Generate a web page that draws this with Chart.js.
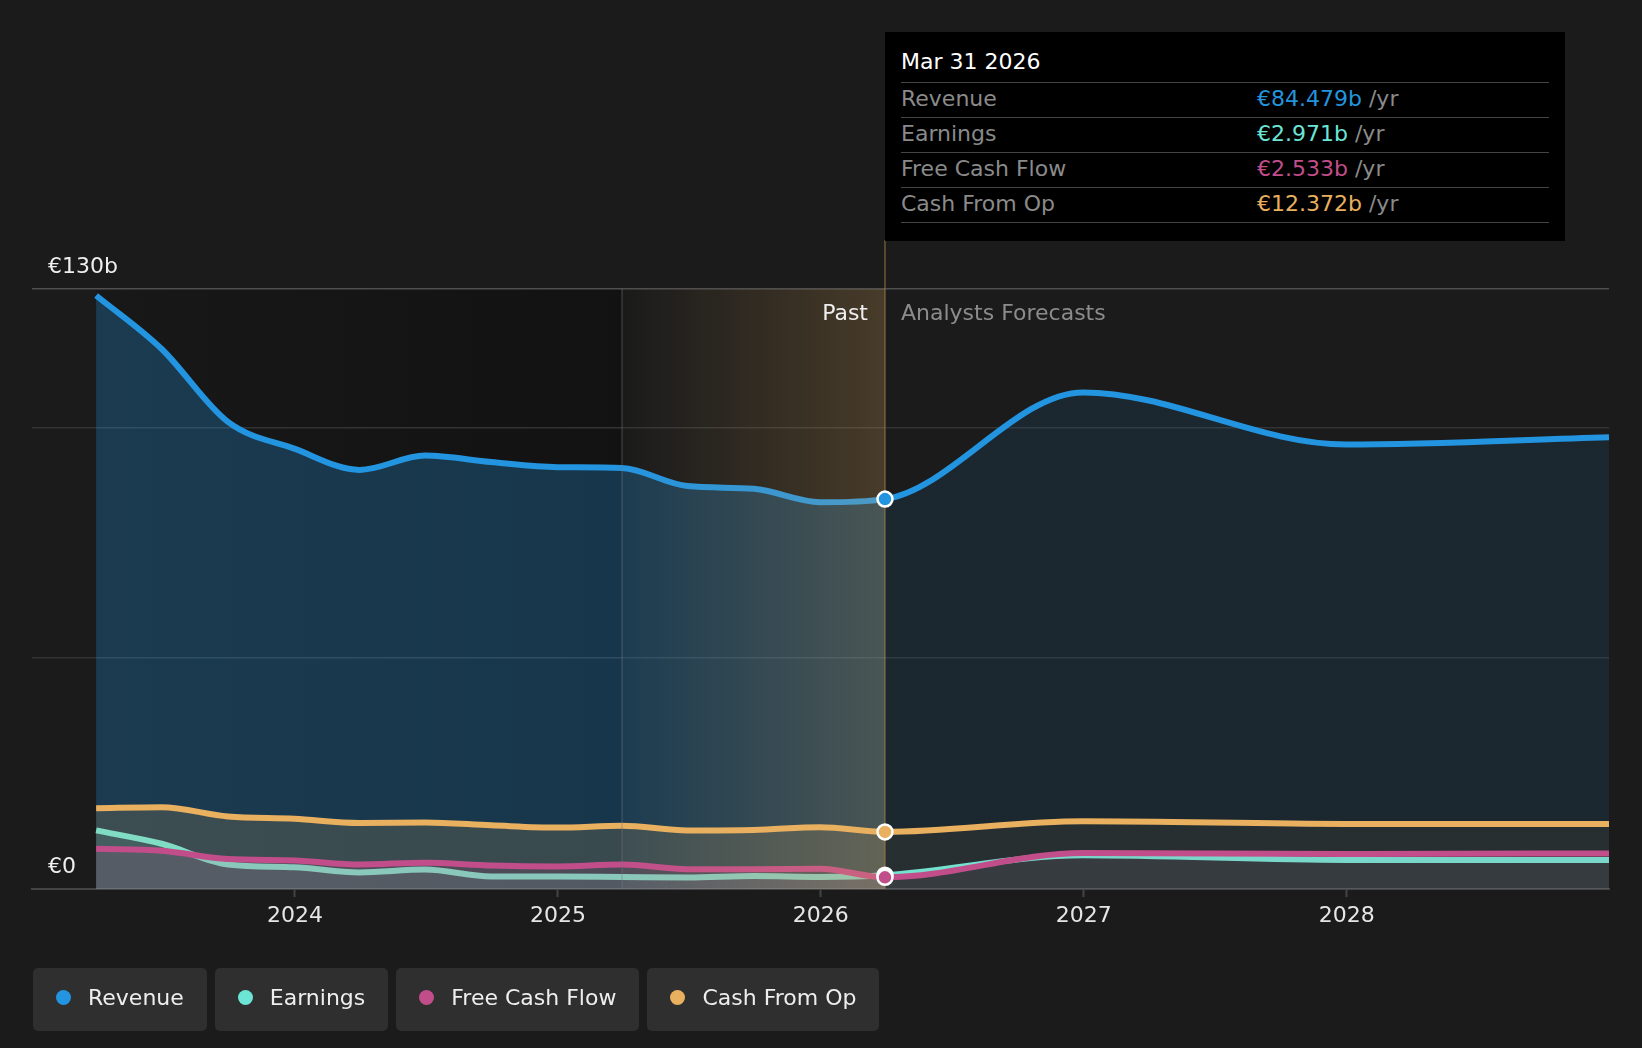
<!DOCTYPE html>
<html>
<head>
<meta charset="utf-8">
<script src="https://cdn.jsdelivr.net/npm/chart.js@4"></script>
<style>
  html, body { margin: 0; padding: 0; background: #1b1b1b; overflow: hidden; }
  body { width: 1642px; height: 1048px; position: relative; font-family: 'DejaVu Sans', sans-serif; }
  #chart { position: absolute; left: 0; top: 0; }
  .tip { position: absolute; left: 885px; top: 32px; width: 648px; padding: 0 16px 18px 16px; background: #000; font-size: 22px; }
  .tip .title { color: #fff; padding-top: 17px; line-height: 26px; padding-bottom: 7px; border-bottom: 1.5px solid #444; }
  .tip .row { display: flex; height: 34px; line-height: 32px; border-bottom: 1.5px solid #444; color: #8a8a8a; }
  .tip .row .lab { width: 356px; }
  .legend { position: absolute; top: 968px; left: 33px; display: flex; gap: 8px; }
  .legend .item { height: 63px; box-sizing: border-box; padding: 0 23px 4px 23px; background: #2f2f2f; border-radius: 5px; display: flex; align-items: center; color: #eee; font-size: 22px; }
  .legend .dot { width: 15px; height: 15px; border-radius: 50%; margin-right: 17px; }
</style>
</head>
<body>
<canvas id="chart" width="1642" height="1048"></canvas>
<div class="tip" id="tip"></div>
<div class="legend" id="legend"></div>
<script>
// ---------------- data ----------------
const dates = ['2023-03-31', '2023-06-30', '2023-09-30', '2023-12-31', '2024-03-31', '2024-06-30', '2024-09-30',
    '2024-12-31', '2025-03-31', '2025-06-30', '2025-09-30', '2025-12-31', '2026-03-31',
    '2026-12-31', '2027-12-31', '2028-12-31'];
const revenue  = [128.6, 117.0, 101.2, 95.4, 90.8, 93.9, 92.5, 91.4, 91.2, 87.3, 86.7, 83.8, 84.479, 107.6, 96.3, 97.9];
const earnings = [12.7, 9.8, 5.3, 4.7, 3.6, 4.2, 2.7, 2.7, 2.6, 2.5, 2.8, 2.6, 2.971, 7.3, 6.3, 6.3];
const fcf      = [8.7, 8.3, 6.5, 6.2, 5.3, 5.7, 5.1, 4.9, 5.3, 4.3, 4.3, 4.4, 2.533, 7.8, 7.6, 7.7];
const cashOp   = [17.5, 17.7, 15.7, 15.2, 14.3, 14.4, 13.8, 13.3, 13.7, 12.7, 12.8, 13.4, 12.372, 14.7, 14.1, 14.1];
const names    = ['Revenue', 'Earnings', 'Free Cash Flow', 'Cash From Op'];
const colors   = ['#2394df', '#6ce5d6', '#c14e8a', '#e9b05f'];
const xTicks   = [2024, 2025, 2026, 2027, 2028];
const yTicks   = [0, 50, 100, 130];
const yLabels  = { 0: '€0', 130: '€130b' };
const nowIdx   = 12;
const nowLabel = 'Mar 31 2026';
const axisStart = '2023-01-01';
const bandStart = '2025-03-31';

function toYear(s) {
    const d = new Date(s + 'T00:00:00Z');
    const y = d.getUTCFullYear();
    const a = Date.UTC(y, 0, 1), b = Date.UTC(y + 1, 0, 1);
    return y + (d - a) / (b - a);
}
const xs = dates.map(toYear);
const nowX = xs[nowIdx];

function rgba(hex, a) {
    const n = parseInt(hex.slice(1), 16);
    return 'rgba(' + (n >> 16) + ',' + ((n >> 8) & 255) + ',' + (n & 255) + ',' + a + ')';
}

// fill that is stronger in the past part, weaker in the forecast part
function areaFill(hex, pastA, futA) {
    return function(ctx) {
        const chart = ctx.chart;
        const area = chart.chartArea;
        if (!area || !chart.scales.x) return 'rgba(0,0,0,0)';
        const p = Math.min(1, Math.max(0, (chart.scales.x.getPixelForValue(nowX) - area.left) / (area.right - area.left)));
        const g = chart.ctx.createLinearGradient(area.left, 0, area.right, 0);
        g.addColorStop(0, rgba(hex, pastA));
        g.addColorStop(p, rgba(hex, pastA));
        g.addColorStop(p, rgba(hex, futA));
        g.addColorStop(1, rgba(hex, futA));
        return g;
    };
}

const series = [revenue, earnings, fcf, cashOp];
const fills = [[0.28, 0.1], [0.12, 0.06], [0.14, 0.07], [0.16, 0.06]];
const orders = [4, 3, 1, 2];

const datasets = series.map((vals, i) => ({
    label: names[i],
    data: vals.map((v, j) => ({ x: xs[j], y: v })),
    borderColor: colors[i],
    borderWidth: 6,
    backgroundColor: areaFill(colors[i], fills[i][0], fills[i][1]),
    fill: 'origin',
    pointRadius: 0,
    pointHoverRadius: 0,
    cubicInterpolationMode: 'monotone',
    order: orders[i]
}));

// ---------------- extras drawn on the canvas ----------------
const decor = {
    id: 'decor',
    beforeDraw(chart) {
        const { ctx, chartArea: a, scales: { x } } = chart;
        const x0 = x.getPixelForValue(xs[0]);
        const x1 = x.getPixelForValue(toYear(bandStart));
        const g = ctx.createLinearGradient(x0, 0, x1, 0);
        g.addColorStop(0, '#181818');
        g.addColorStop(1, '#121212');
        ctx.save();
        ctx.fillStyle = g;
        ctx.fillRect(x0, a.top, x1 - x0, a.bottom - a.top);
        ctx.restore();
    },
    afterDatasetsDraw(chart) {
        const { ctx, chartArea: a, scales: { x, y } } = chart;
        const x1 = x.getPixelForValue(toYear(bandStart));
        const xn = x.getPixelForValue(nowX);
        ctx.save();
        // highlight of the last year of the past
        const g = ctx.createLinearGradient(x1, 0, xn, 0);
        g.addColorStop(0, 'rgba(233,176,95,0)');
        g.addColorStop(1, 'rgba(233,176,95,0.22)');
        ctx.fillStyle = g;
        ctx.fillRect(x1, a.top, xn - x1, a.bottom - a.top);
        ctx.lineWidth = 1.5;
        ctx.strokeStyle = 'rgba(120,120,120,0.35)';
        ctx.beginPath(); ctx.moveTo(x1, a.top); ctx.lineTo(x1, a.bottom); ctx.stroke();
        ctx.strokeStyle = 'rgba(160,130,70,0.6)';
        ctx.beginPath(); ctx.moveTo(xn, 240); ctx.lineTo(xn, a.bottom); ctx.stroke();

        // markers at the last actual point
        [0, 3, 1, 2].forEach(i => {
            const pt = chart.getDatasetMeta(i).data[nowIdx];
            ctx.beginPath();
            ctx.arc(pt.x, pt.y, 7.5, 0, Math.PI * 2);
            ctx.fillStyle = colors[i];
            ctx.fill();
            ctx.lineWidth = 2.5;
            ctx.strokeStyle = '#fff';
            ctx.stroke();
        });

        // labels
        ctx.font = '22px "DejaVu Sans"';
        ctx.textBaseline = 'middle';
        ctx.fillStyle = '#eeeeee';
        ctx.textAlign = 'right';
        ctx.fillText('Past', xn - 17, a.top + 25);
        ctx.fillStyle = '#8c8c8c';
        ctx.textAlign = 'left';
        ctx.fillText('Analysts Forecasts', xn + 16, a.top + 25);
        ctx.fillStyle = '#eeeeee';
        Object.keys(yLabels).forEach(v => {
            ctx.fillText(yLabels[v], 48, y.getPixelForValue(+v) - 22);
        });
        ctx.restore();
    }
};

new Chart(document.getElementById('chart'), {
    type: 'line',
    data: { datasets },
    options: {
        responsive: false,
        animation: false,
        devicePixelRatio: 1,
        layout: { padding: { left: 32, right: 33, top: 289, bottom: 119 }, autoPadding: false },
        plugins: { legend: { display: false }, tooltip: { enabled: false } },
        scales: {
            x: {
                type: 'linear',
                min: toYear(axisStart),
                max: xs[xs.length - 1],
                afterBuildTicks: s => { s.ticks = xTicks.map(v => ({ value: v })); },
                afterFit: s => { s.height = 40; },
                ticks: {
                    color: '#e6e6e6',
                    font: { family: 'DejaVu Sans', size: 22 },
                    padding: 6,
                    maxRotation: 0,
                    callback: v => String(v)
                },
                grid: { drawOnChartArea: false, drawTicks: true, tickLength: 8, tickColor: '#444', tickWidth: 2 },
                border: { display: true, color: '#444', width: 2 }
            },
            y: {
                min: 0,
                max: 130,
                afterBuildTicks: s => { s.ticks = yTicks.map(v => ({ value: v })); },
                afterFit: s => { s.width = 0; },
                ticks: { display: false },
                border: { display: false },
                grid: {
                    drawTicks: false,
                    lineWidth: 1.5,
                    color: c => c.tick.value === 130 ? '#4f4f4f' : (c.tick.value === 0 ? 'rgba(0,0,0,0)' : '#333333')
                }
            }
        }
    },
    plugins: [decor]
});

// ---------------- tooltip & legend (html) ----------------
const tip = document.getElementById('tip');
let html = '<div class="title">' + nowLabel + '</div>';
series.forEach((vals, i) => {
    html += '<div class="row"><span class="lab">' + names[i] + '</span><span><span style="color:' + colors[i] + '">€' +
        vals[nowIdx].toFixed(3) + 'b</span> /yr</span></div>';
});
tip.innerHTML = html;

const legend = document.getElementById('legend');
names.forEach((n, i) => {
    legend.innerHTML += '<div class="item"><span class="dot" style="background:' + colors[i] + '"></span>' + n + '</div>';
});
</script>
</body>
</html>
